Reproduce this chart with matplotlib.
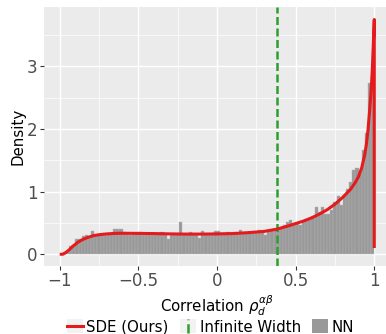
import matplotlib
matplotlib.use("Agg")
import matplotlib.pyplot as plt
import numpy as np
from matplotlib.lines import Line2D
from matplotlib.patches import Rectangle, Patch
from matplotlib.legend_handler import HandlerBase
from matplotlib.ticker import MultipleLocator

# ---------------- data ----------------
bin_left = -1.0
bin_width = 0.02
nn_density = [
    0.00, 0.01, 0.04, 0.13, 0.14, 0.24, 0.25, 0.29, 0.30, 0.27,
    0.37, 0.31, 0.30, 0.30, 0.31, 0.32, 0.34, 0.40, 0.40, 0.40,
    0.35, 0.33, 0.31, 0.34, 0.32, 0.35, 0.30, 0.33, 0.32, 0.30,
    0.34, 0.33, 0.35, 0.32, 0.25, 0.33, 0.31, 0.32, 0.51, 0.32,
    0.33, 0.35, 0.33, 0.31, 0.26, 0.37, 0.33, 0.30, 0.32, 0.37,
    0.37, 0.34, 0.33, 0.35, 0.33, 0.36, 0.34, 0.39, 0.35, 0.36,
    0.35, 0.37, 0.35, 0.38, 0.36, 0.30, 0.37, 0.38, 0.40, 0.41,
    0.43, 0.46, 0.52, 0.55, 0.48, 0.49, 0.47, 0.52, 0.55, 0.57,
    0.60, 0.76, 0.68, 0.76, 0.64, 0.64, 0.70, 0.84, 0.93, 0.78,
    0.95, 1.05, 1.16, 1.34, 1.37, 1.30, 1.66, 1.93, 2.73, 2.60,
]

sde_x = [-1.0, -0.98, -0.96, -0.94, -0.92, -0.90, -0.88, -0.85, -0.82, -0.78,
         -0.74, -0.70, -0.65, -0.60, -0.50, -0.40, -0.30, -0.20, -0.10, 0.0,
         0.10, 0.20, 0.30, 0.38, 0.45, 0.50, 0.55, 0.60, 0.65, 0.70,
         0.75, 0.80, 0.85, 0.88, 0.90, 0.92, 0.94, 0.95, 0.96, 0.97,
         0.98, 0.987, 0.993, 1.0, 1.0]
sde_y = [0.0, 0.0, 0.03, 0.07, 0.12, 0.16, 0.20, 0.24, 0.27, 0.30,
         0.315, 0.325, 0.333, 0.335, 0.333, 0.33, 0.325, 0.322, 0.322, 0.325,
         0.33, 0.345, 0.365, 0.40, 0.45, 0.49, 0.53, 0.58, 0.64, 0.71,
         0.80, 0.91, 1.04, 1.15, 1.24, 1.38, 1.60, 1.76, 1.98, 2.28,
         2.62, 2.92, 3.30, 3.75, 0.10]

infinite_width = 0.384

x_ticks = [-1, -0.5, 0, 0.5, 1]
x_tick_labels = ["\u22121", "\u22120.5", "0", "0.5", "1"]
y_ticks = [0, 1, 2, 3]
y_tick_labels = ["0", "1", "2", "3"]

# ---------------- style ----------------
RED = "#e41a1c"
GREEN = "#2ca02c"
GREY = "#999999"
PANEL = "#ebebeb"
KEYBG = "#f2f2f2"
TXT = "#4d4d4d"

W, H = 386, 334
fig = plt.figure(figsize=(W / 100, H / 100), dpi=100)
ax = fig.add_axes([44 / W, (H - 266) / H, (390 - 44) / W, (266 - 7) / H])
ax.set_facecolor(PANEL)
for s in ax.spines.values():
    s.set_visible(False)

ax.set_xlim(-1.1, 1.1)
ax.set_ylim(-0.188, 3.95)

ax.xaxis.set_minor_locator(MultipleLocator(0.25))
ax.yaxis.set_minor_locator(MultipleLocator(0.5))
ax.grid(which="major", color="white", linewidth=1.05)
ax.grid(which="minor", color="white", linewidth=0.5)
ax.set_axisbelow(True)

lefts = bin_left + bin_width * np.arange(len(nn_density))
ax.bar(lefts, nn_density, width=bin_width, align="edge", color=GREY,
       edgecolor="#b4b4b4", linewidth=0.3, zorder=2, label="NN")
ax.axvline(infinite_width, color=GREEN, linewidth=1.8,
           linestyle=(0, (3.2, 1.4)), zorder=3, label="Infinite Width")
ax.plot(sde_x, sde_y, color=RED, linewidth=2.2, zorder=4,
        solid_joinstyle="round", solid_capstyle="butt", label="SDE (Ours)")

ax.set_xticks(x_ticks)
ax.set_xticklabels(x_tick_labels)
ax.set_yticks(y_ticks)
ax.set_yticklabels(y_tick_labels)
ax.tick_params(which="major", length=2.6, width=0.8, color="#333333",
               labelcolor=TXT, labelsize=12, pad=2)
ax.tick_params(which="minor", length=0)

ax.set_ylabel("Density", fontsize=10.8, color="black", labelpad=1)
ax.set_xlabel(r"Correlation $\rho_d^{\alpha\beta}$", fontsize=10.8,
              color="black", labelpad=2)


class HandlerKeyLine(HandlerBase):
    def __init__(self, vertical=False, **kw):
        super().__init__(**kw)
        self.vertical = vertical

    def create_artists(self, legend, orig_handle, xdescent, ydescent,
                       width, height, fontsize, trans):
        bg = Rectangle((-xdescent, -ydescent), width, height,
                       facecolor=KEYBG, edgecolor="none", transform=trans)
        if self.vertical:
            xm = -xdescent + width / 2
            ln = Line2D([xm, xm], [-ydescent, -ydescent + height],
                        color=orig_handle.get_color(),
                        linewidth=orig_handle.get_linewidth(),
                        linestyle=orig_handle.get_linestyle(),
                        transform=trans)
        else:
            ym = -ydescent + height / 2
            ln = Line2D([-xdescent, -xdescent + width], [ym, ym],
                        color=orig_handle.get_color(),
                        linewidth=orig_handle.get_linewidth(),
                        transform=trans)
        return [bg, ln]


h_sde = Line2D([], [], color=RED, linewidth=2.2)
h_inf = Line2D([], [], color=GREEN, linewidth=1.8, linestyle=(0, (3.2, 1.4)))
h_nn = Patch(facecolor=GREY, edgecolor="none")

fig.legend([h_sde, h_inf, h_nn], ["SDE (Ours)", "Infinite Width", "NN"],
           handler_map={h_sde: HandlerKeyLine(False), h_inf: HandlerKeyLine(True)},
           loc="center", bbox_to_anchor=(210.5 / W, 7.0 / H), ncol=3,
           frameon=False, fontsize=10.8, handlelength=1.05, handleheight=1.05,
           handletextpad=0.25, columnspacing=0.75, borderpad=0, borderaxespad=0)

fig.savefig("out.png", dpi=100, facecolor="white")
